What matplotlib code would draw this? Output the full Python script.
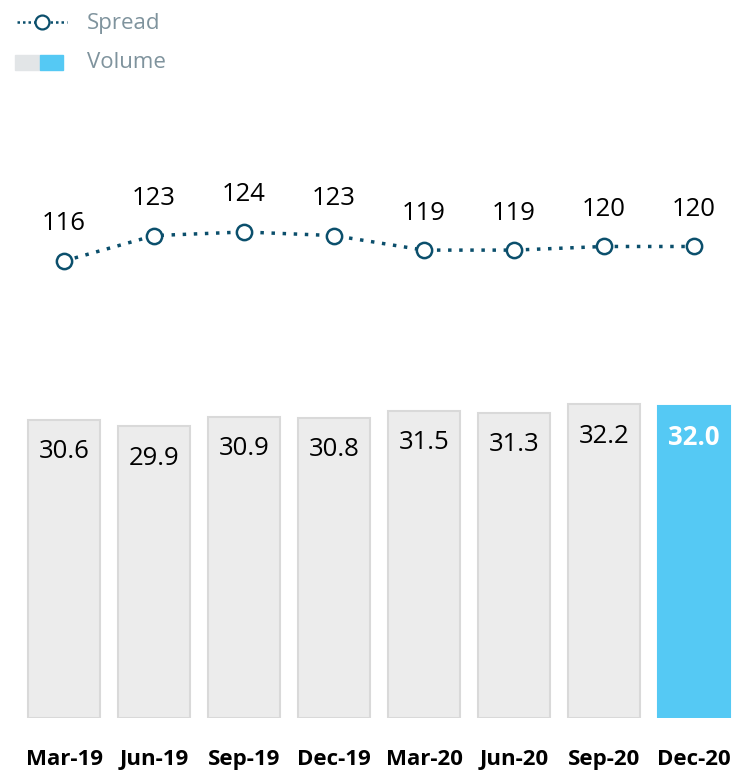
import matplotlib
matplotlib.use("Agg")
import matplotlib.pyplot as plt
from matplotlib.lines import Line2D
from matplotlib.patches import Rectangle

quarters = ["Mar-19", "Jun-19", "Sep-19", "Dec-19", "Mar-20", "Jun-20", "Sep-20", "Dec-20"]
volume = [30.6, 29.9, 30.9, 30.8, 31.5, 31.3, 32.2, 32.0]
spread = [116, 123, 124, 123, 119, 119, 120, 120]

W, H = 735, 773
fig = plt.figure(figsize=(W / 100, H / 100), dpi=100)

gray_fill = "#ececec"
gray_edge = "#d9d9d9"
blue = "#55c9f4"
teal = "#0b4f6c"
legend_txt = "#7f939d"
FAM = ["Open Sans", "DejaVu Sans"]

base_px = 718  # bar baseline from top
ax = fig.add_axes([0, (H - base_px) / H, 1, base_px / H])
x = list(range(len(quarters)))
ax.set_xlim(-64 / 90, (W - 64) / 90)
ax.set_ylim(0, base_px / 9.75)

colors = [gray_fill] * (len(volume) - 1) + [blue]
edges = [gray_edge] * (len(volume) - 1) + [blue]
ax.bar(x, volume, width=0.8, color=colors, edgecolor=edges, linewidth=1.5)
for i, v in enumerate(volume):
    last = i == len(volume) - 1
    ax.annotate(f"{v:.1f}", (i, v), xytext=(0, -32), textcoords="offset pixels",
                ha="center", va="center", fontsize=18.5,
                color="white" if last else "black",
                fontweight="bold" if last else "normal",
                family=FAM)
for s in ax.spines.values():
    s.set_visible(False)
ax.set_yticks([])
ax.set_xticks(x)
ax.set_xticklabels(quarters, fontsize=16, fontweight="bold", family=FAM)
ax.tick_params(axis="x", length=0, pad=22)

ax2 = ax.twinx()
ax2.set_xlim(ax.get_xlim())
ppu = 3.63
top_val = 116 + 261 / ppu
bot_val = 116 - (base_px - 261) / ppu
ax2.set_ylim(bot_val, top_val)
ax2.plot(x, spread, color=teal, linestyle=(0, (1, 2.2)), linewidth=2.5,
         marker="o", markersize=11, markerfacecolor="white",
         markeredgecolor=teal, markeredgewidth=1.8)
for i, v in enumerate(spread):
    ax2.annotate(f"{v}", (i, v), xytext=(0, 37), textcoords="offset pixels",
                 ha="center", va="center", fontsize=18.5, color="black",
                 family=FAM)
for s in ax2.spines.values():
    s.set_visible(False)
ax2.set_yticks([])

# Legend
def fx(px):
    return px / W

def fy(py):
    return 1 - py / H

fig.add_artist(Line2D([fx(17), fx(67)], [fy(22), fy(22)], color=teal,
                      linestyle=(0, (1, 1.2)), linewidth=1.8, transform=fig.transFigure))
fig.add_artist(Line2D([fx(42)], [fy(22)], color=teal, marker="o", markersize=10,
                      markerfacecolor="white", markeredgewidth=1.6, transform=fig.transFigure))
fig.text(fx(87), fy(23), "Spread", color=legend_txt, fontsize=16, va="center", ha="left",
         family=FAM)
fig.add_artist(Rectangle((fx(15), fy(70)), fx(25), 15 / H, color="#e2e5e7",
                         transform=fig.transFigure))
fig.add_artist(Rectangle((fx(40), fy(70)), fx(23), 15 / H, color=blue,
                         transform=fig.transFigure))
fig.text(fx(87), fy(63), "Volume", color=legend_txt, fontsize=16, va="center", ha="left",
         family=FAM)

fig.savefig("out.png", dpi=100)
